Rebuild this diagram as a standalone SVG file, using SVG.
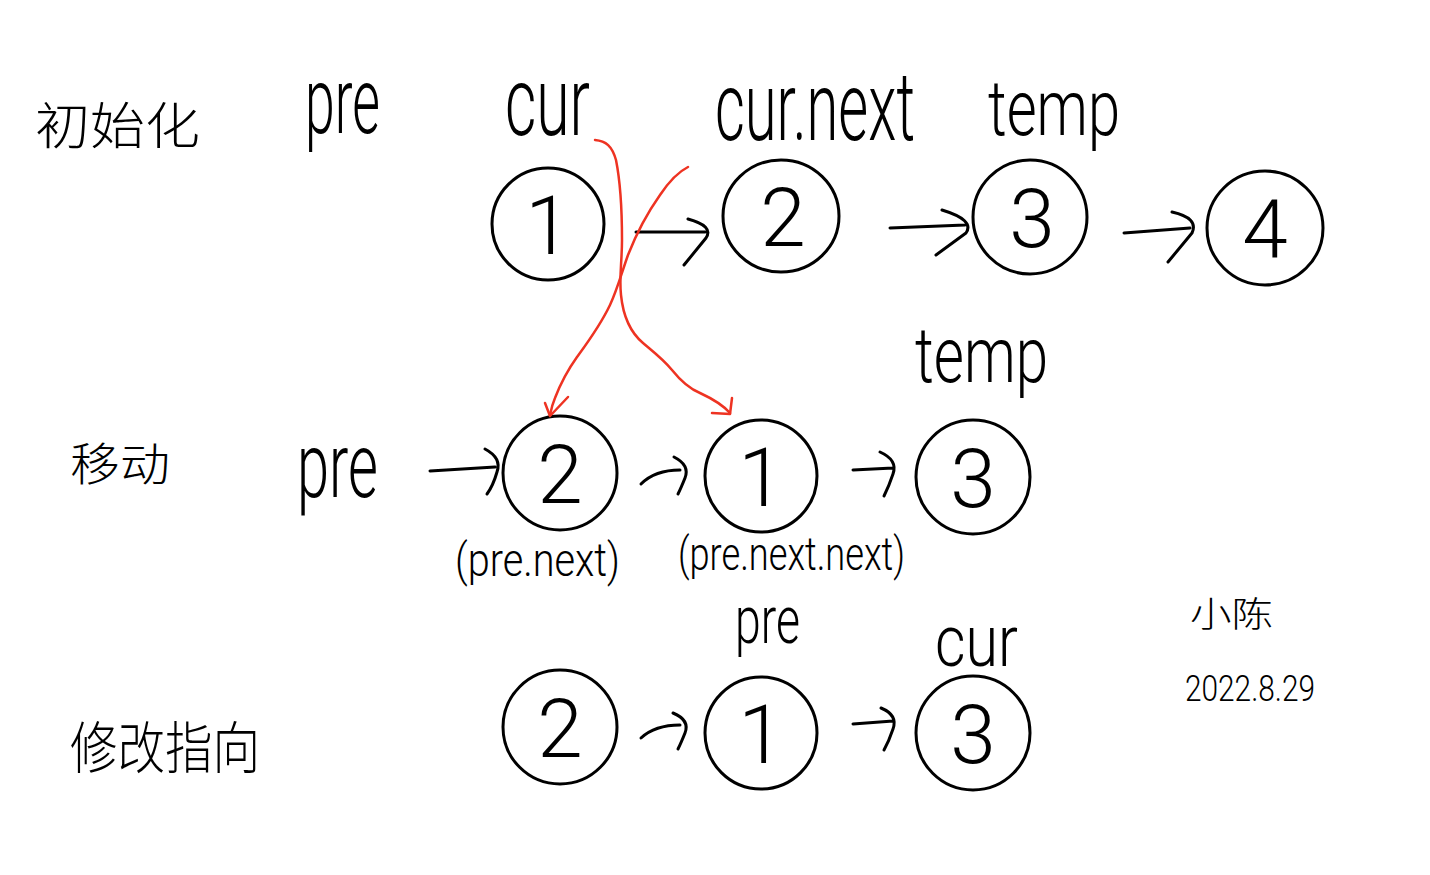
<svg xmlns="http://www.w3.org/2000/svg" width="1430" height="875" viewBox="0 0 1430 875">
<style>
.bg{fill:#ffffff}
.node{fill:none;stroke:#000;stroke-width:3}
.num{font-family:"Roboto","Liberation Sans",sans-serif;font-weight:300;font-size:82px;fill:#000;text-anchor:middle}
.hand{font-family:"Roboto","Liberation Sans",sans-serif;font-weight:300;fill:#000}
.cjk{font-family:"Noto Sans CJK SC","Noto Sans CJK TC",sans-serif;font-weight:300;fill:#000}
.arr{fill:none;stroke:#000;stroke-width:3;stroke-linecap:round;stroke-linejoin:round}
.red{fill:none;stroke:#ee3322;stroke-width:2.5;stroke-linecap:round;stroke-linejoin:round}
</style>
<rect class="bg" x="0" y="0" width="1430" height="875"/>

<g id="labels">
<text class="cjk" x="35" y="144" font-size="50" textLength="165" lengthAdjust="spacingAndGlyphs">初始化</text>
<text class="cjk" x="70" y="481" font-size="45" textLength="100" lengthAdjust="spacingAndGlyphs">移动</text>
<text class="cjk" x="70" y="768" font-size="56" textLength="190" lengthAdjust="spacingAndGlyphs">修改指向</text>
<text class="cjk" x="1190" y="627" font-size="35" textLength="83" lengthAdjust="spacingAndGlyphs">小陈</text>
<text class="hand" transform="translate(1185,701) scale(1,1.3)" font-size="29" textLength="130" lengthAdjust="spacingAndGlyphs">2022.8.29</text>

<text class="hand" transform="translate(305,133) scale(1,1.77)" font-size="52" textLength="75" lengthAdjust="spacingAndGlyphs">pre</text>
<text class="hand" transform="translate(505,135) scale(1,1.6)" font-size="60" textLength="85" lengthAdjust="spacingAndGlyphs">cur</text>
<text class="hand" transform="translate(715,140) scale(1,1.71)" font-size="56" textLength="200" lengthAdjust="spacingAndGlyphs">cur.next</text>
<text class="hand" transform="translate(988,135) scale(1,1.35)" font-size="58" textLength="132" lengthAdjust="spacingAndGlyphs">temp</text>

<text class="hand" transform="translate(297,497) scale(1,1.58)" font-size="57" textLength="81" lengthAdjust="spacingAndGlyphs">pre</text>
<text class="hand" transform="translate(915,382) scale(1,1.35)" font-size="58" textLength="133" lengthAdjust="spacingAndGlyphs">temp</text>
<text class="hand" transform="translate(455,576) scale(1,1.18)" font-size="39" textLength="165" lengthAdjust="spacingAndGlyphs">(pre.next)</text>
<text class="hand" transform="translate(678,570) scale(1,1.3)" font-size="35.5" textLength="227" lengthAdjust="spacingAndGlyphs">(pre.next.next)</text>

<text class="hand" transform="translate(735,643) scale(1,1.5)" font-size="45" textLength="65" lengthAdjust="spacingAndGlyphs">pre</text>
<text class="hand" transform="translate(935,666) scale(1,1.22)" font-size="59" textLength="83" lengthAdjust="spacingAndGlyphs">cur</text>
</g>

<g id="n1a"><ellipse class="node" cx="548" cy="224" rx="56" ry="56"/><text class="num" x="548" y="254">1</text></g>
<g id="n2a"><ellipse class="node" cx="781" cy="216" rx="58" ry="56"/><text class="num" x="783" y="246">2</text></g>
<g id="n3a"><ellipse class="node" cx="1030" cy="217" rx="57" ry="57"/><text class="num" x="1032" y="247">3</text></g>
<g id="n4a"><ellipse class="node" cx="1265" cy="228" rx="58" ry="57"/><text class="num" x="1265" y="258">4</text></g>

<g id="n2b"><ellipse class="node" cx="560" cy="473" rx="57" ry="57"/><text class="num" x="560" y="503">2</text></g>
<g id="n1b"><ellipse class="node" cx="761" cy="476" rx="56" ry="56"/><text class="num" x="761" y="506">1</text></g>
<g id="n3b"><ellipse class="node" cx="973" cy="477" rx="57" ry="57"/><text class="num" x="973" y="507">3</text></g>

<g id="n2c"><ellipse class="node" cx="560" cy="727" rx="57" ry="57"/><text class="num" x="560" y="757">2</text></g>
<g id="n1c"><ellipse class="node" cx="761" cy="733" rx="56" ry="56"/><text class="num" x="761" y="763">1</text></g>
<g id="n3c"><ellipse class="node" cx="973" cy="733" rx="57" ry="57"/><text class="num" x="973" y="763">3</text></g>

<g id="connectors">
<path class="arr" d="M636,232 L705,232 M688,219 Q714,226 706,238 L684,265"/>
<path class="arr" d="M890,228 L965,225 M942,210 Q975,220 966,233 L936,255"/>
<path class="arr" d="M1124,233 L1190,228 M1172,212 Q1199,218 1192,233 L1168,262"/>

<path class="arr" d="M430,471 L495,467 M485,449 Q502,458 497,472 Q493,486 487,494"/>
<path class="arr" d="M641,484 Q655,470 680,470 M674,457 Q690,465 685,478 Q681,488 678,494"/>
<path class="arr" d="M853,470 L893,468 M880,452 Q898,460 893,474 Q889,486 884,496"/>

<path class="arr" d="M641,738 Q655,725 680,725 M673,713 Q690,720 685,733 Q681,743 678,749"/>
<path class="arr" d="M853,724 L893,721 M881,708 Q898,715 893,729 Q889,741 884,750"/>

<path class="red" d="M595,140 C606,141 612,146 616,160 C620,180 622,210 622,240 C622,262 619,278 621,295 C623,315 630,332 643,343 C655,353 664,360 672,370 C680,380 690,389 700,393 C713,399 722,404 730,413"/>
<path class="red" d="M732,398 L730,414 L712,413"/>
<path class="red" d="M688,167 C678,172 670,180 660,195 C648,212 637,232 628,255 C622,272 617,290 610,305 C600,326 588,342 577,357 C567,371 560,385 555,398 C552,405 551,410 550,415"/>
<path class="red" d="M545,403 L550,416 L568,397"/>
</g>
</svg>
